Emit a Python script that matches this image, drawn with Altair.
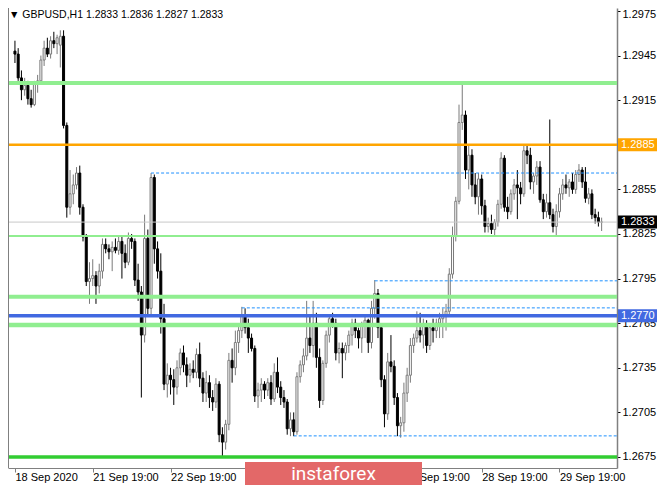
import json
import altair as alt
import pandas as pd

# ---------------- data ----------------
opens = [1.2948, 1.2946, 1.2930, 1.2922, 1.2925, 1.2916, 1.2912, 1.2926, 1.2928, 1.2942,
         1.2950, 1.2946, 1.2955, 1.2953, 1.2952, 1.2958, 1.2898, 1.2843, 1.2852, 1.2858,
         1.2866, 1.2843, 1.2823, 1.2793, 1.2795, 1.2797, 1.2790, 1.2800, 1.2818, 1.2815,
         1.2813, 1.2816, 1.2814, 1.2820, 1.2812, 1.2806, 1.2822, 1.2820, 1.2794, 1.2786,
         1.2757, 1.2822, 1.2775, 1.2863, 1.2815, 1.2800, 1.2768, 1.2724, 1.2730, 1.2727,
         1.2722, 1.2735, 1.2745, 1.2737, 1.2730, 1.2734, 1.2732, 1.2744, 1.2728, 1.2718,
         1.2725, 1.2715, 1.2712, 1.2724, 1.2690, 1.2685, 1.2697, 1.2740, 1.2735, 1.2752,
         1.2760, 1.2770, 1.2762, 1.2755, 1.2748, 1.2716, 1.2720, 1.2724, 1.2720, 1.2725,
         1.2714, 1.2732, 1.2722, 1.2715, 1.2712, 1.2694, 1.2700, 1.2692, 1.2729, 1.2737,
         1.2743, 1.2755, 1.2750, 1.2765, 1.2742, 1.2713, 1.2738, 1.2757, 1.2768, 1.2765,
         1.2745, 1.2748, 1.2745, 1.2750, 1.2757, 1.2765, 1.2760, 1.2755, 1.2763, 1.2767,
         1.2752, 1.2775, 1.2785, 1.2762, 1.2727, 1.2704, 1.2739, 1.2736, 1.2715, 1.2696,
         1.2698, 1.2718, 1.2730, 1.2750, 1.2755, 1.2760, 1.2757, 1.2763, 1.2750, 1.2762,
         1.2760, 1.2765, 1.2768, 1.2770, 1.2773, 1.2798, 1.2824, 1.2847, 1.2900, 1.2905,
         1.2868, 1.2878, 1.2858, 1.2850, 1.2862, 1.2844, 1.2830, 1.2832, 1.2828, 1.2833,
         1.2845, 1.2876, 1.2843, 1.2840, 1.2852, 1.2858, 1.2856, 1.2852, 1.2881, 1.2878,
         1.2860, 1.2864, 1.2870, 1.2848, 1.2840, 1.2846, 1.2838, 1.2830, 1.2840, 1.2852,
         1.2858, 1.2856, 1.2860, 1.2855, 1.2865, 1.2868, 1.2860, 1.2849, 1.2852, 1.2838,
         1.2836, 1.2833]
highs = [1.2955, 1.2950, 1.2935, 1.2930, 1.2928, 1.2922, 1.2928, 1.2932, 1.2945, 1.2955,
         1.2957, 1.2958, 1.2961, 1.2959, 1.2962, 1.2962, 1.2900, 1.2868, 1.2865, 1.2870,
         1.2871, 1.2845, 1.2825, 1.2806, 1.2808, 1.2800, 1.2805, 1.2822, 1.2822, 1.2818,
         1.2820, 1.2822, 1.2823, 1.2824, 1.2818, 1.2826, 1.2825, 1.2822, 1.2805, 1.2790,
         1.2838, 1.2828, 1.2866, 1.2865, 1.2820, 1.2812, 1.2778, 1.2738, 1.2735, 1.2734,
         1.2740, 1.2748, 1.2750, 1.2742, 1.2738, 1.2740, 1.2748, 1.2752, 1.2732, 1.2733,
         1.2730, 1.2720, 1.2728, 1.2726, 1.2695, 1.2700, 1.2745, 1.2748, 1.2760, 1.2765,
         1.2776, 1.2775, 1.2768, 1.2758, 1.2750, 1.2725, 1.2728, 1.2726, 1.2728, 1.2730,
         1.2738, 1.2742, 1.2726, 1.2720, 1.2714, 1.2705, 1.2705, 1.2732, 1.2740, 1.2748,
         1.2780, 1.2770, 1.2780, 1.2772, 1.2748, 1.2740, 1.2760, 1.2770, 1.2772, 1.2768,
         1.2752, 1.2752, 1.2752, 1.2760, 1.2768, 1.2768, 1.2762, 1.2766, 1.2770, 1.2768,
         1.2780, 1.2794, 1.2788, 1.2765, 1.2730, 1.2745, 1.2757, 1.2740, 1.2718, 1.2702,
         1.2725, 1.2735, 1.2755, 1.2758, 1.2773, 1.2772, 1.2768, 1.2767, 1.2765, 1.2768,
         1.2768, 1.2772, 1.2775, 1.2778, 1.2802, 1.2830, 1.2850, 1.2912, 1.2927, 1.2908,
         1.2885, 1.2882, 1.2866, 1.2866, 1.2865, 1.2848, 1.2836, 1.2838, 1.2835, 1.2848,
         1.2880, 1.2878, 1.2850, 1.2855, 1.2862, 1.2868, 1.2860, 1.2885, 1.2885, 1.2883,
         1.2866, 1.2874, 1.2874, 1.2852, 1.2852, 1.2902, 1.2842, 1.2845, 1.2856, 1.2862,
         1.2865, 1.2862, 1.2866, 1.2868, 1.2872, 1.2870, 1.2870, 1.2856, 1.2855, 1.2842,
         1.2840, 1.2836]
lows = [1.2940, 1.2928, 1.2915, 1.2918, 1.2912, 1.2910, 1.2911, 1.2920, 1.2926, 1.2938,
        1.2944, 1.2943, 1.2950, 1.2946, 1.2937, 1.2896, 1.2836, 1.2838, 1.2845, 1.2855,
        1.2838, 1.2820, 1.2790, 1.2778, 1.2790, 1.2778, 1.2785, 1.2795, 1.2812, 1.2808,
        1.2800, 1.2812, 1.2811, 1.2795, 1.2802, 1.2804, 1.2815, 1.2790, 1.2780, 1.2715,
        1.2752, 1.2770, 1.2770, 1.2805, 1.2795, 1.2758, 1.2720, 1.2715, 1.2717, 1.2710,
        1.2717, 1.2730, 1.2732, 1.2722, 1.2725, 1.2728, 1.2728, 1.2722, 1.2712, 1.2712,
        1.2708, 1.2706, 1.2708, 1.2685, 1.2675, 1.2680, 1.2693, 1.2725, 1.2730, 1.2745,
        1.2755, 1.2758, 1.2745, 1.2746, 1.2712, 1.2708, 1.2712, 1.2714, 1.2716, 1.2710,
        1.2712, 1.2718, 1.2710, 1.2708, 1.2690, 1.2689, 1.2689, 1.2690, 1.2725, 1.2732,
        1.2740, 1.2745, 1.2742, 1.2735, 1.2708, 1.2710, 1.2735, 1.2752, 1.2762, 1.2740,
        1.2738, 1.2728, 1.2740, 1.2745, 1.2750, 1.2755, 1.2748, 1.2745, 1.2755, 1.2745,
        1.2748, 1.2768, 1.2755, 1.2722, 1.2695, 1.2700, 1.2732, 1.2710, 1.2689, 1.2688,
        1.2692, 1.2712, 1.2725, 1.2745, 1.2752, 1.2752, 1.2748, 1.2745, 1.2747, 1.2752,
        1.2755, 1.2755, 1.2755, 1.2760, 1.2770, 1.2795, 1.2820, 1.2845, 1.2895, 1.2862,
        1.2855, 1.2850, 1.2845, 1.2838, 1.2838, 1.2826, 1.2826, 1.2825, 1.2824, 1.2830,
        1.2842, 1.2840, 1.2835, 1.2838, 1.2848, 1.2835, 1.2845, 1.2850, 1.2872, 1.2855,
        1.2852, 1.2858, 1.2846, 1.2835, 1.2836, 1.2835, 1.2826, 1.2823, 1.2836, 1.2848,
        1.2852, 1.2850, 1.2852, 1.2852, 1.2860, 1.2856, 1.2846, 1.2845, 1.2835, 1.2832,
        1.2830, 1.2827]
closes = [1.2946, 1.2930, 1.2922, 1.2925, 1.2916, 1.2912, 1.2926, 1.2928, 1.2942, 1.2950,
          1.2946, 1.2955, 1.2953, 1.2957, 1.2958, 1.2898, 1.2843, 1.2852, 1.2858, 1.2866,
          1.2843, 1.2823, 1.2793, 1.2795, 1.2797, 1.2790, 1.2800, 1.2818, 1.2815, 1.2813,
          1.2816, 1.2814, 1.2820, 1.2812, 1.2806, 1.2822, 1.2820, 1.2794, 1.2786, 1.2757,
          1.2822, 1.2775, 1.2863, 1.2815, 1.2800, 1.2768, 1.2724, 1.2730, 1.2727, 1.2722,
          1.2735, 1.2745, 1.2737, 1.2730, 1.2734, 1.2732, 1.2744, 1.2728, 1.2718, 1.2725,
          1.2715, 1.2712, 1.2724, 1.2690, 1.2685, 1.2697, 1.2740, 1.2735, 1.2752, 1.2760,
          1.2770, 1.2762, 1.2755, 1.2748, 1.2716, 1.2720, 1.2724, 1.2720, 1.2725, 1.2714,
          1.2732, 1.2722, 1.2715, 1.2712, 1.2694, 1.2700, 1.2692, 1.2729, 1.2737, 1.2743,
          1.2755, 1.2750, 1.2765, 1.2742, 1.2713, 1.2738, 1.2757, 1.2768, 1.2765, 1.2745,
          1.2748, 1.2745, 1.2750, 1.2757, 1.2765, 1.2760, 1.2755, 1.2763, 1.2767, 1.2752,
          1.2775, 1.2785, 1.2762, 1.2727, 1.2704, 1.2739, 1.2736, 1.2715, 1.2696, 1.2698,
          1.2718, 1.2730, 1.2750, 1.2755, 1.2760, 1.2757, 1.2763, 1.2750, 1.2762, 1.2760,
          1.2765, 1.2768, 1.2770, 1.2773, 1.2798, 1.2824, 1.2847, 1.2900, 1.2905, 1.2868,
          1.2878, 1.2858, 1.2850, 1.2862, 1.2844, 1.2830, 1.2832, 1.2828, 1.2833, 1.2845,
          1.2876, 1.2843, 1.2840, 1.2852, 1.2858, 1.2856, 1.2852, 1.2881, 1.2878, 1.2860,
          1.2864, 1.2870, 1.2848, 1.2840, 1.2846, 1.2838, 1.2830, 1.2840, 1.2852, 1.2858,
          1.2856, 1.2860, 1.2855, 1.2865, 1.2868, 1.2860, 1.2849, 1.2852, 1.2838, 1.2836,
          1.2833, 1.2833]

tick_pos = [0, 24, 48, 72, 96, 120, 144, 168]
tick_labels = ["18 Sep 2020", "21 Sep 19:00", "22 Sep 19:00", "23 Sep 19:00",
               "24 Sep 19:00", "25 Sep 19:00", "28 Sep 19:00", "29 Sep 19:00"]
y_ticks = [1.2675, 1.2705, 1.2735, 1.2765, 1.2795, 1.2825, 1.2855, 1.2885, 1.2915, 1.2945, 1.2975]

level_prices = [1.2833, 1.29266, 1.2885, 1.28236, 1.27828, 1.2770, 1.27638, 1.2675]
level_colors = ["#C8C8C8", "#90EE90", "#FFA500", "#90EE90", "#90EE90", "#4169E1", "#90EE90", "#32CD32"]
level_widths = [1, 4, 2.5, 2, 4, 3.5, 4.5, 3.5]

dash_prices = [1.2866, 1.27935, 1.27753, 1.26892]
dash_starts = [42, 111, 70, 86]

box_prices = [1.2885, 1.2770, 1.2833]
box_colors = ["#FFA500", "#4169E1", "#000000"]
box_texts = ["1.2885", "1.2770", "1.2833"]

title_text = "\u25BC GBPUSD,H1  1.2833 1.2836 1.2827 1.2833"
watermark_text = "instaforex"

# ---------------- chart ----------------
W, H = 609, 460
RIGHT, BOTTOM = 40, 17
FONT = "Liberation Sans"

df = pd.DataFrame({"i": list(range(len(closes))), "open": opens, "high": highs,
                   "low": lows, "close": closes})
df["dir"] = ["up" if c >= o else "down" for o, c in zip(opens, closes)]

xs = alt.Scale(domain=[-0.6, 184.2], nice=False, zero=False)
ys = alt.Scale(domain=[1.26676, 1.29770], nice=False, zero=False)

label_expr = json.dumps(tick_labels) + "[round(datum.value / 24)]"
x_axis = alt.Axis(title=None, values=tick_pos, labelExpr=label_expr, labelAlign="left",
                  labelBaseline="middle", labelPadding=5, tickSize=4, labelOverlap=False,
                  labelFlush=False, grid=False, domainColor="#808080", tickColor="#808080",
                  labelColor="#000000", labelFont=FONT, labelFontSize=11)
y_axis = alt.Axis(title=None, orient="right", values=y_ticks, format=".4f", tickSize=3,
                  labelPadding=2, labelOverlap=False, labelFlush=False, grid=False,
                  labelOffset={"condition": {"test": "datum.value > 1.297", "value": 4}, "value": 0},
                  domainColor="#808080", domainWidth=1.5, tickColor="#000000",
                  labelColor="#000000", labelFont=FONT, labelFontSize=11)

dir_dom = ["up", "down"]

wicks = alt.Chart(df).mark_rule(strokeWidth=1).encode(
    x=alt.X("i:Q", scale=xs, axis=x_axis),
    y=alt.Y("low:Q", scale=ys, axis=y_axis),
    y2="high:Q",
    color=alt.Color("dir:N", scale=alt.Scale(domain=dir_dom, range=["#7a7a7a", "#000000"]), legend=None),
)

bodies = alt.Chart(df).mark_bar(size=2, strokeWidth=1).encode(
    x=alt.X("i:Q", scale=xs, axis=x_axis),
    y=alt.Y("open:Q", scale=ys, axis=y_axis),
    y2="close:Q",
    fill=alt.Fill("dir:N", scale=alt.Scale(domain=dir_dom, range=["#ffffff", "#000000"]), legend=None),
    stroke=alt.Stroke("dir:N", scale=alt.Scale(domain=dir_dom, range=["#7a7a7a", "#000000"]), legend=None),
)

lv = pd.DataFrame({"price": level_prices, "col": level_colors, "w": level_widths})
levels = alt.Chart(lv).mark_rule(strokeCap="butt").encode(
    y=alt.Y("price:Q", scale=ys, axis=y_axis),
    color=alt.Color("col:N", scale=None),
    strokeWidth=alt.StrokeWidth("w:Q", scale=None),
)

dd = pd.DataFrame({"price": dash_prices, "start": dash_starts})
dashes = alt.Chart(dd).mark_rule(strokeDash=[3, 2], strokeWidth=1, color="#1E90FF").encode(
    x=alt.X("start:Q", scale=xs, axis=x_axis),
    x2=alt.value(W),
    y=alt.Y("price:Q", scale=ys, axis=y_axis),
)

bd = pd.DataFrame({"price": box_prices, "col": box_colors, "txt": box_texts})
boxes = alt.Chart(bd).mark_rule(strokeWidth=13, strokeCap="butt").encode(
    x=alt.value(W + 1), x2=alt.value(W + RIGHT),
    y=alt.Y("price:Q", scale=ys, axis=y_axis),
    color=alt.Color("col:N", scale=None),
)
box_txt = alt.Chart(bd).mark_text(align="left", baseline="middle", font=FONT, fontSize=11,
                                   color="#ffffff").encode(
    x=alt.value(W + 4),
    y=alt.Y("price:Q", scale=ys, axis=y_axis),
    text="txt:N",
)

one = pd.DataFrame({"t": [title_text], "w": [watermark_text]})
left_border = alt.Chart(one).mark_rule(color="#808080", strokeWidth=1).encode(
    x=alt.value(0.5), y=alt.value(0), y2=alt.value(H))
title = alt.Chart(one).mark_text(align="left", baseline="middle", font=FONT, fontSize=10.5,
                                 color="#000000").encode(
    x=alt.value(1), y=alt.value(6.5), text="t:N")
wm_box = alt.Chart(one).mark_rect(color="#E36868").encode(
    x=alt.value(237), x2=alt.value(414), y=alt.value(454), y2=alt.value(H + BOTTOM))
wm_txt = alt.Chart(one).mark_text(align="center", baseline="middle", font="Roboto", fontSize=19,
                                  color="#ffffff").encode(
    x=alt.value(325.5), y=alt.value(465.5), text="w:N")

chart = alt.layer(
    wicks, bodies, levels, dashes, boxes, box_txt, left_border, title, wm_box, wm_txt
).properties(
    width=W, height=H,
    autosize=alt.AutoSizeParams(type="none"),
    padding={"left": 0, "top": 0, "right": RIGHT, "bottom": BOTTOM},
    background="#ffffff",
).configure_view(stroke="transparent")

chart.save("out.html", embed_options={"renderer": "svg", "actions": False})
